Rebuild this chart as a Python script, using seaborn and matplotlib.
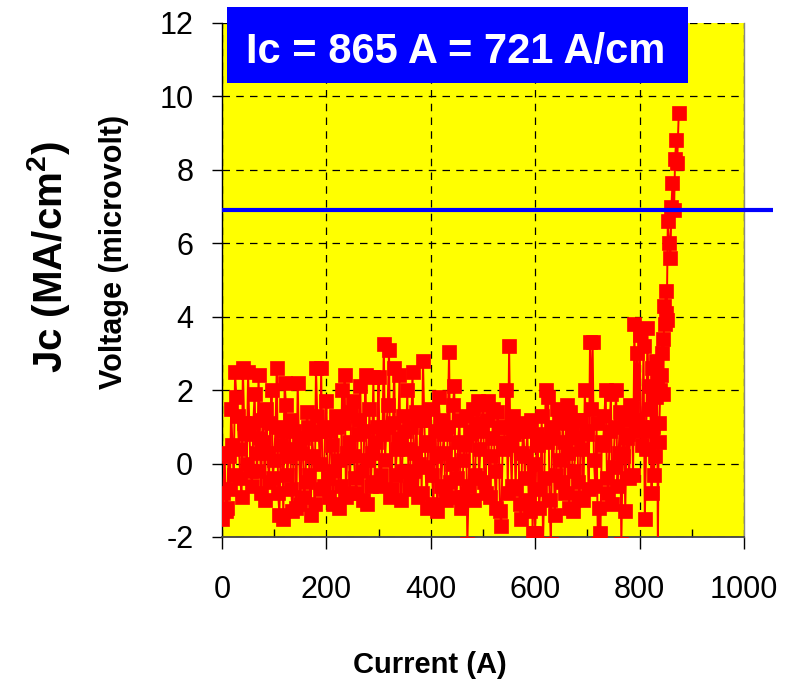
import matplotlib
matplotlib.use("Agg")
import matplotlib.pyplot as plt
import seaborn as sns
import pandas as pd
from matplotlib.patches import Rectangle
from matplotlib.ticker import MultipleLocator

# ---------------- data ----------------
# main sweep
current_a = [
    0, 5, 10, 15, 20, 25, 30, 35, 40, 45,
    50, 55, 60, 65, 70, 75, 80, 85, 90, 95,
    100, 105, 110, 115, 120, 125, 130, 135, 140, 145,
    150, 155, 160, 165, 170, 175, 180, 185, 190, 195,
    200, 205, 210, 215, 220, 225, 230, 235, 240, 245,
    250, 255, 260, 265, 270, 275, 280, 285, 290, 295,
    300, 305, 310, 315, 320, 325, 330, 335, 340, 345,
    350, 355, 360, 365, 370, 375, 380, 385, 390, 395,
    400, 405, 410, 415, 420, 425, 430, 435, 440, 445,
    450, 455, 460, 465, 470, 475, 480, 485, 490, 495,
    500, 505, 510, 515, 520, 525, 530, 535, 540, 545,
    550, 555, 560, 565, 570, 575, 580, 585, 590, 595,
    600, 605, 610, 615, 620, 625, 630, 635, 640, 645,
    650, 655, 660, 665, 670, 675, 680, 685, 690, 695,
    700, 705, 710, 715, 720, 725, 730, 735, 740, 745,
    750, 755, 760, 765, 770, 775, 780, 785, 790, 795,
    800, 805, 810, 815, 820, 823, 826, 829, 832, 835,
    838, 841, 844, 847, 850, 852, 854, 857, 859, 861,
    863, 866, 868, 870, 872, 875,
]
voltage_a = [
    -1.5, 0.3, -1.2, -0.7, 0.5, 2.5, 1.3, -0.4, 2.6, 0.8,
    2.5, -0.2, 1.1, 0.3, 2.4, -0.8, 0.6, 1.5, -0.5, 2.0,
    0.1, 2.6, -1.4, 0.9, 2.2, -0.3, 1.2, -1.3, 0.4, 2.2,
    -1.1, 0.7, -0.5, 1.0, -1.4, 0.2, 2.6, 0.9, 2.6, -0.6,
    1.7, -0.9, 0.5, -0.2, 1.0, -1.2, 2.0, 2.4, 0.3, -0.8,
    1.7, -0.4, 0.8, 2.1, -1.0, 2.4, 0.1, -0.6, 2.35, 0.6,
    2.35, -0.3, 3.25, 1.0, 3.1, -0.7, 2.6, 0.4, 2.4, -0.2,
    0.9, 2.0, -0.5, 2.5, 0.3, -0.9, 1.2, 2.8, -0.1, 0.6,
    1.5, -1.1, 0.2, 1.8, -0.6, 0.8, -1.0, 3.05, 0.0, 2.1,
    -0.4, 1.2, -0.9, 0.5, -2.2, 0.9, 1.5, -0.3, 1.7, 0.4,
    1.6, -0.8, 1.7, 0.2, 1.5, -1.2, 1.0, -1.7, 0.6, 2.0,
    3.2, -0.6, 0.8, 1.0, -1.1, 0.3, -0.4, 0.9, -1.3, -1.9,
    -1.9, 0.5, -0.7, -2.2, 2.0, 1.8, -2.2, 0.7, -0.3, 1.3,
    -0.5, 0.6, 1.6, -1.2, 0.9, -0.2, 1.2, -0.9, 0.4, 2.0,
    0.8, 3.3, 3.3, -0.6, -2.2, -1.9, 0.5, 2.0, -0.8, 1.9,
    -0.1, 2.0, 0.3, -2.2, 1.2, 0.7, -0.4, 1.5, 3.8, 3.0,
    3.5, 0.5, -1.5, 3.7, 2.1, -0.8, 1.0, 0.2, 2.8, -2.3,
    1.1, 2.4, 3.4, 4.3, 4.7, 3.9, 6.6, 6.0, 5.6, 7.0,
    7.65, 6.9, 8.3, 8.8, 8.2, 9.55,
]
# in-between readings that fill the dense noise band
current_b = [
    2.5, 7.5, 12.5, 17.5, 22.5, 27.5, 32.5, 37.5, 42.5, 47.5,
    52.5, 57.5, 62.5, 67.5, 72.5, 77.5, 82.5, 87.5, 92.5, 97.5,
    102.5, 107.5, 112.5, 117.5, 122.5, 127.5, 132.5, 137.5, 142.5, 147.5,
    152.5, 157.5, 162.5, 167.5, 172.5, 177.5, 182.5, 187.5, 192.5, 197.5,
    202.5, 207.5, 212.5, 217.5, 222.5, 227.5, 232.5, 237.5, 242.5, 247.5,
    252.5, 257.5, 262.5, 267.5, 272.5, 277.5, 282.5, 287.5, 292.5, 297.5,
    302.5, 307.5, 312.5, 317.5, 322.5, 327.5, 332.5, 337.5, 342.5, 347.5,
    352.5, 357.5, 362.5, 367.5, 372.5, 377.5, 382.5, 387.5, 392.5, 397.5,
    402.5, 407.5, 412.5, 417.5, 422.5, 427.5, 432.5, 437.5, 442.5, 447.5,
    452.5, 457.5, 462.5, 467.5, 472.5, 477.5, 482.5, 487.5, 492.5, 497.5,
    502.5, 507.5, 512.5, 517.5, 522.5, 527.5, 532.5, 537.5, 542.5, 547.5,
    552.5, 557.5, 562.5, 567.5, 572.5, 577.5, 582.5, 587.5, 592.5, 597.5,
    602.5, 607.5, 612.5, 617.5, 622.5, 627.5, 632.5, 637.5, 642.5, 647.5,
    652.5, 657.5, 662.5, 667.5, 672.5, 677.5, 682.5, 687.5, 692.5, 697.5,
    702.5, 707.5, 712.5, 717.5, 722.5, 727.5, 732.5, 737.5, 742.5, 747.5,
    752.5, 757.5, 762.5, 767.5, 772.5, 777.5, 782.5, 787.5, 792.5, 797.5,
    802.5, 807.5, 812.5, 817.5, 821.5, 824.5, 827.5, 830.5, 833.5, 836.5,
    839.5, 842.5, 845.5, 848.5, 851.0,
]
voltage_b = [
    -0.8, -1.3, 0.2, 1.5, -0.3, 1.8, 0.4, -0.9, 1.1, 0.0,
    0.9, -0.6, 1.9, -0.2, 0.7, 1.2, -1.0, 0.3, 1.1, -0.4,
    1.0, -0.8, 0.5, -1.5, 1.6, 0.2, -0.7, 0.9, -1.2, 0.6,
    0.3, -0.9, 1.4, -0.3, 0.8, -1.1, 1.3, 0.0, -0.7, 1.0,
    -0.4, 0.9, -1.1, 1.3, 0.1, -0.6, 1.1, -0.9, 0.6, 1.4,
    0.2, -0.8, 1.2, -0.2, 0.9, -1.1, 1.5, 0.3, -0.5, 1.0,
    -0.6, 0.8, 0.1, 1.6, -0.9, 1.1, -0.3, 0.7, -1.0, 1.3,
    0.4, -0.7, 1.0, -0.2, 1.4, 0.0, -0.8, 1.2, -1.2, 0.5,
    -0.3, 0.9, -1.3, 1.2, 0.3, -0.7, 1.0, -0.5, 1.6, -0.9,
    0.6, -1.2, 0.1, 1.3, -0.6, 0.8, -1.0, 1.1, -0.4, 0.9,
    -0.5, 1.2, -0.9, 0.7, -0.2, 1.4, -1.3, 0.4, 1.0, -0.8,
    0.5, 1.3, -0.7, 0.9, -1.5, 1.1, 0.2, -1.0, 1.2, 0.0,
    0.8, -1.2, 1.3, -0.4, 0.6, -1.0, 1.0, -1.4, 1.5, 0.1,
    1.1, -0.8, 0.3, 1.4, -1.3, 0.7, -0.5, 1.2, -1.0, 0.9,
    -0.7, 1.5, 0.1, 1.1, -1.2, 0.6, 1.3, -0.4, 0.9, -1.1,
    1.0, -0.6, 1.4, 0.2, -1.3, 0.8, 1.6, -0.3, 0.9, 1.2,
    1.0, 3.2, 0.4, 1.5, 0.9, 2.6, -0.3, 1.8, 2.3, 0.6,
    2.0, 3.0, 1.9, 3.8, 4.1,
]
criterion_current = [0, 1055]
criterion_voltage = [6.9, 6.9]

x_ticks = [0, 200, 400, 600, 800, 1000]
y_ticks = [-2, 0, 2, 4, 6, 8, 10, 12]
title_text = "Ic = 865 A = 721 A/cm"
x_label = "Current (A)"
y_label = "Voltage (microvolt)"
jc_label = r"Jc (MA/cm$^\mathbf{2}$)"

# ---------------- style ----------------
sns.set_theme(style="white")
plt.rcParams["font.family"] = ["Liberation Sans", "DejaVu Sans"]
plt.rcParams["mathtext.fontset"] = "custom"
plt.rcParams["mathtext.rm"] = "Liberation Sans"
plt.rcParams["mathtext.bf"] = "Liberation Sans:bold"
plt.rcParams["text.color"] = "black"
plt.rcParams["axes.labelcolor"] = "black"
plt.rcParams["xtick.color"] = "black"
plt.rcParams["ytick.color"] = "black"

W, H = 798, 681
fig = plt.figure(figsize=(W / 100, H / 100), dpi=100)
fig.patch.set_facecolor("white")
ax = fig.add_axes([222 / W, 1 - 537 / H, (744 - 222) / W, (537 - 23) / H])
ax.set_facecolor("#FFFF00")

df = pd.DataFrame({"Current": current_a + current_b,
                   "Voltage": voltage_a + voltage_b})
df = df.sort_values("Current", kind="stable").reset_index(drop=True)
sns.lineplot(data=df, x="Current", y="Voltage", ax=ax, sort=False,
             estimator=None, color="#FF0000", linewidth=1.4, marker="s",
             markersize=10.5, markeredgecolor="#FF0000", markeredgewidth=0.5,
             zorder=3)
ax.plot(criterion_current, criterion_voltage, color="#0000FF", linewidth=3,
        solid_capstyle="butt", clip_on=False, zorder=5)

ax.set_xlim(0, 1000)
ax.set_ylim(-2, 12)
ax.set_xticks(x_ticks)
ax.set_xticklabels([str(v) for v in x_ticks])
ax.set_yticks(y_ticks)
ax.set_yticklabels([str(v) for v in y_ticks])
ax.xaxis.set_minor_locator(MultipleLocator(100))

ax.tick_params(axis="x", which="major", bottom=True, direction="out",
               length=8.6, width=1, pad=19, labelsize=22, colors="black")
ax.tick_params(axis="x", which="minor", bottom=True, direction="in",
               length=5.5, width=1, color="black")
ax.tick_params(axis="y", which="major", left=True, direction="out",
               length=7.2, width=1, pad=13.5, labelsize=22, colors="black")

ax.set_axisbelow(True)
ax.grid(True, which="major", color="black", linestyle=(0, (6, 5)),
        linewidth=0.9)

ax.spines["top"].set_visible(False)
ax.spines["left"].set_color("black")
ax.spines["left"].set_linewidth(1.0)
ax.spines["bottom"].set_color("#444444")
ax.spines["bottom"].set_linewidth(1.3)
ax.spines["right"].set_color("#888888")
ax.spines["right"].set_linewidth(1.0)

ax.set_xlabel("")
ax.set_ylabel("")

fig.text(430 / W, 1 - 665 / H, x_label, fontsize=21, fontweight="bold",
         ha="center", va="center", color="black")
fig.text(114 / W, 1 - 252 / H, y_label, fontsize=22, fontweight="bold",
         ha="center", va="center", rotation=90, color="black")
fig.text(48 / W, 1 - 257 / H, jc_label, fontsize=29, fontweight="bold",
         ha="center", va="center", rotation=90, color="black")

box = Rectangle((227 / W, 1 - 83 / H), (688 - 227) / W, (83 - 7) / H,
                transform=fig.transFigure, facecolor="#0000FF",
                edgecolor="none", zorder=10)
fig.add_artist(box)
fig.text(456 / W, 1 - 63 / H, title_text, color="white", fontsize=30,
         fontweight="bold", ha="center", va="baseline", zorder=11)

fig.savefig("out.png", dpi=100)
